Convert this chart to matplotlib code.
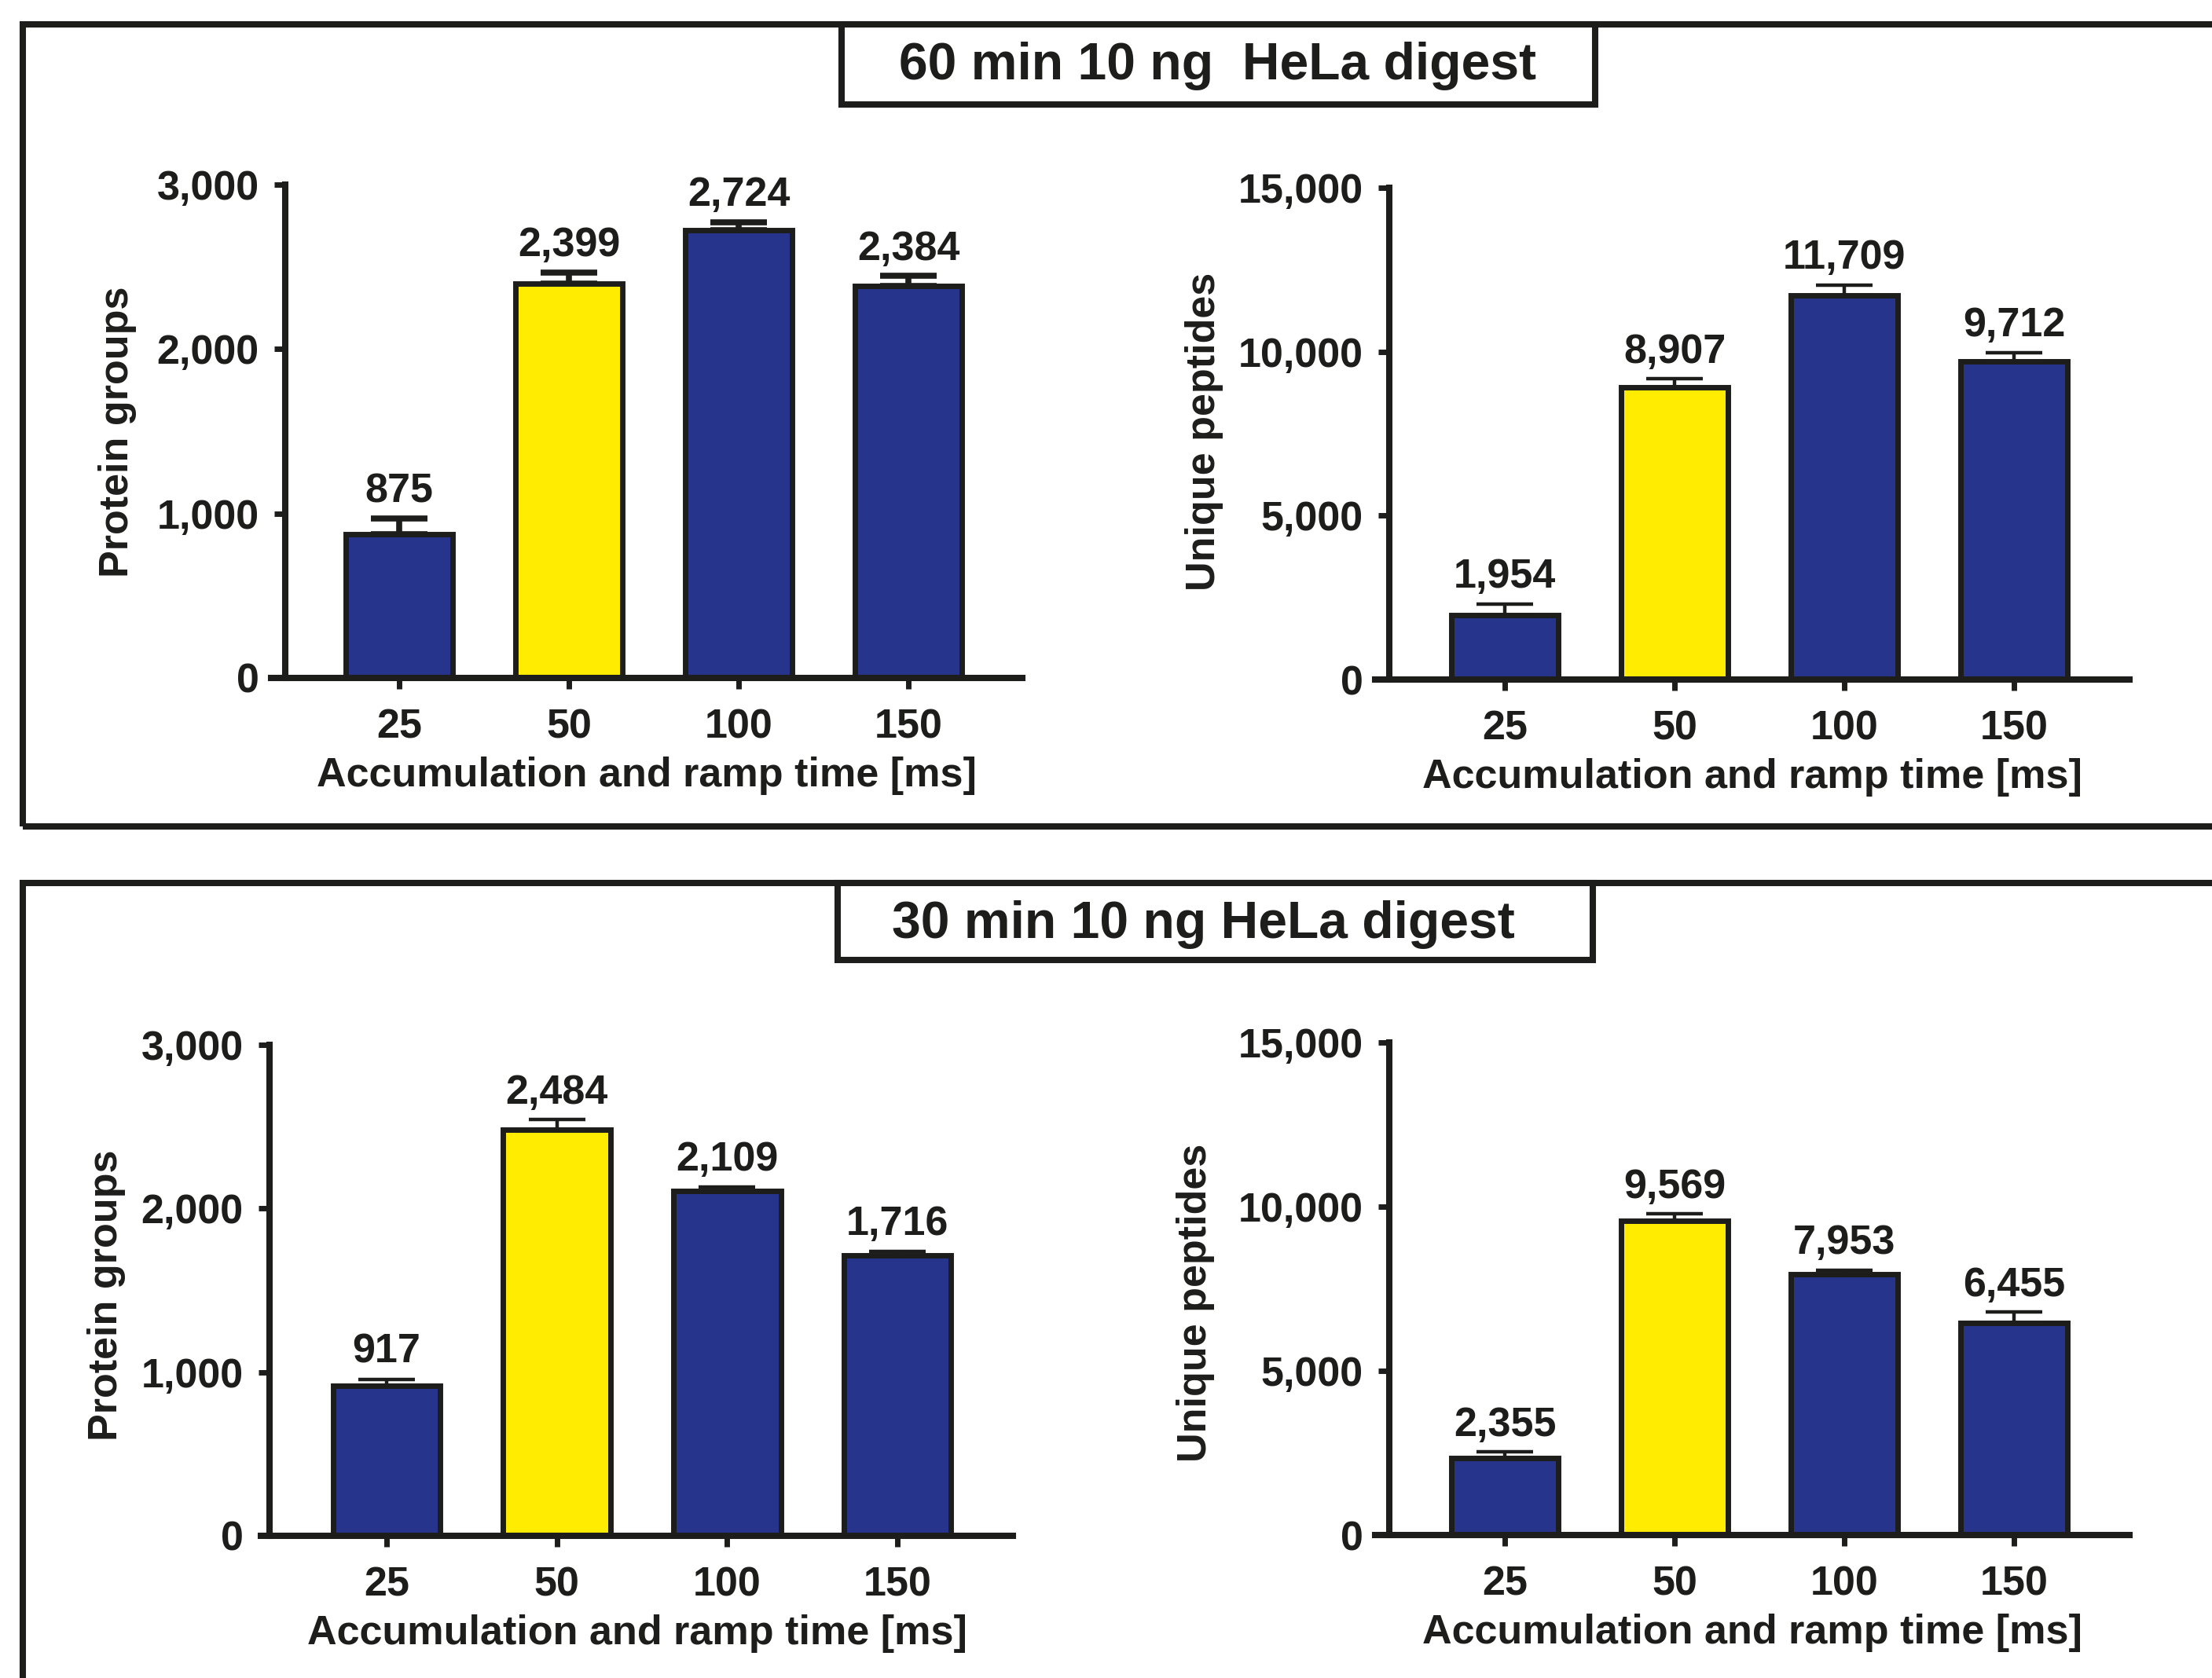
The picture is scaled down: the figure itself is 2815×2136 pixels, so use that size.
import matplotlib
matplotlib.use("Agg")
import matplotlib.pyplot as plt
from matplotlib.patches import Rectangle

plt.rcParams['font.family'] = ['Liberation Sans', 'DejaVu Sans']
plt.rcParams['font.weight'] = 'bold'

# ---------------- data ----------------
categories = ["25", "50", "100", "150"]
xlabel_text = "Accumulation and ramp time [ms]"

title_top = "60 min 10 ng  HeLa digest"
title_bottom = "30 min 10 ng HeLa digest"

pg_60 = [875, 2399, 2724, 2384]
pg_60_err = [94, 68, 47, 60]
pep_60 = [1954, 8907, 11709, 9712]
pep_60_err = [350, 260, 330, 260]

pg_30 = [917, 2484, 2109, 1716]
pg_30_err = [40, 58, 24, 24]
pep_30 = [2355, 9569, 7953, 6455]
pep_30_err = [170, 210, 120, 330]

pg_ticks = [0, 1000, 2000, 3000]
pep_ticks = [0, 5000, 10000, 15000]
ylabel_pg = "Protein groups"
ylabel_pep = "Unique peptides"

# ---------------- style ----------------
W, H = 2815, 2136
DPI = 100
BLUE = '#27348b'
YELLOW = '#ffec00'
EDGE = '#1d1d1b'
colors = [BLUE, YELLOW, BLUE, BLUE]
FS = 37.5

fig = plt.figure(figsize=(W / DPI, H / DPI), dpi=DPI)
fig.patch.set_facecolor('white')


def fx(px):
    return px / W


def fy(py):
    return 1 - py / H


def make_axes(x0, x1, ytop, ybot):
    return fig.add_axes([fx(x0), fy(ybot), fx(x1) - fx(x0), fy(ytop) - fy(ybot)])


def panel(ax, vals, errs, ticks, ymax, c0, spacing, x0, x1, yspine_px, elw):
    xs = list(range(len(categories)))
    ax.bar(xs, vals, width=0.63, color=colors, edgecolor=EDGE, linewidth=5, zorder=2)
    ax.errorbar(xs, vals, yerr=[[0] * len(errs), errs], fmt='none', ecolor=EDGE,
                elinewidth=elw, capsize=26, capthick=elw, zorder=1)
    for xi, v, e in zip(xs, vals, errs):
        ax.annotate(f"{v:,}", xy=(xi, v + e), xytext=(0, 7), textcoords='offset points',
                    ha='center', va='bottom', fontsize=FS, fontweight='bold', color=EDGE)
    ax.set_xlim((x0 - c0) / spacing, (x1 - c0) / spacing)
    ax.set_ylim(0, ymax)
    ax.set_xticks(xs)
    ax.set_xticklabels(categories)
    ax.set_yticks(ticks)
    ax.set_yticklabels([f"{t:,}" for t in ticks])
    for s in ['top', 'right']:
        ax.spines[s].set_visible(False)
    ax.spines['left'].set_position(('data', (yspine_px - c0) / spacing))
    for s in ['left', 'bottom']:
        ax.spines[s].set_linewidth(5.8)
        ax.spines[s].set_color(EDGE)
    ax.spines['bottom'].set_zorder(3)
    ax.tick_params(axis='both', direction='out', length=10, width=5, color=EDGE,
                   labelsize=FS, labelcolor=EDGE)
    ax.tick_params(axis='x', pad=18)
    ax.tick_params(axis='y', pad=14)
    ax.set_xlabel(xlabel_text, fontsize=FS, fontweight='bold', color=EDGE, labelpad=9)
    ax.patch.set_alpha(0)


# top-left
ax1 = make_axes(345, 1301, 235, 863)
panel(ax1, pg_60, pg_60_err, pg_ticks, 3000, 508, 216, 345, 1301, 363, 5.5)
# top-right
ax2 = make_axes(1750, 2710, 239, 865)
panel(ax2, pep_60, pep_60_err, pep_ticks, 15000, 1915, 216, 1750, 2710, 1768, 3.2)
# bottom-left
ax3 = make_axes(332, 1289, 1330, 1955)
panel(ax3, pg_30, pg_30_err, pg_ticks, 3000, 492, 216.7, 332, 1289, 343, 3.2)
# bottom-right
ax4 = make_axes(1750, 2710, 1327, 1954)
panel(ax4, pep_30, pep_30_err, pep_ticks, 15000, 1915, 216, 1750, 2710, 1768, 3.2)

# y labels
for (px, py, txt) in [(150, 550, ylabel_pg), (1532, 549, ylabel_pep),
                      (135, 1649, ylabel_pg), (1522, 1658, ylabel_pep)]:
    fig.text(fx(px), fy(py), txt, rotation=90, ha='center', va='center',
             fontsize=FS, fontweight='bold', color=EDGE)

# panel frames
LW = 5.8
fig.add_artist(Rectangle((fx(29), fy(1052)), fx(3000) - fx(29), fy(31) - fy(1052),
                         transform=fig.transFigure, fill=False, edgecolor=EDGE,
                         linewidth=LW, clip_on=False))
fig.add_artist(Rectangle((fx(29), fy(2400)), fx(3000) - fx(29), fy(1124) - fy(2400),
                         transform=fig.transFigure, fill=False, edgecolor=EDGE,
                         linewidth=LW, clip_on=False))

# title boxes
fig.add_artist(Rectangle((fx(1071), fy(133)), fx(2030) - fx(1071), fy(31) - fy(133),
                         transform=fig.transFigure, facecolor='white', edgecolor=EDGE,
                         linewidth=LW, clip_on=False))
fig.text(fx(1549), fy(84), title_top, ha='center', va='center', fontsize=47.5,
         fontweight='bold', color=EDGE)
fig.add_artist(Rectangle((fx(1066), fy(1222)), fx(2027) - fx(1066), fy(1124) - fy(1222),
                         transform=fig.transFigure, facecolor='white', edgecolor=EDGE,
                         linewidth=LW, clip_on=False))
fig.text(fx(1531), fy(1177), title_bottom, ha='center', va='center', fontsize=47.5,
         fontweight='bold', color=EDGE)

fig.savefig("out.png", dpi=DPI, facecolor='white')
